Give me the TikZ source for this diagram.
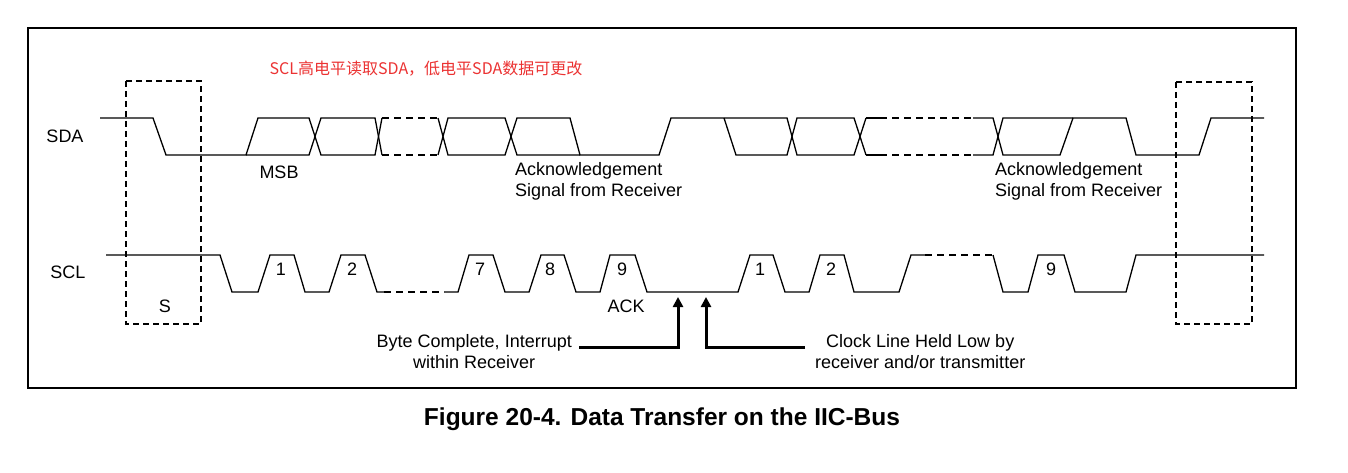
\documentclass[tikz,border=0pt]{standalone}
\usepackage{fontspec}
\setmainfont{Liberation Sans}
\newfontfamily\cjk{Noto Sans CJK SC}
\usetikzlibrary{arrows.meta}
\definecolor{redtxt}{RGB}{235,50,50}
\begin{document}
\begin{tikzpicture}[x=1pt,y=-1pt,
  wave/.style={line width=1.3pt},
  dsh/.style={line width=1.3pt,dash pattern=on 7pt off 5pt},
  box/.style={line width=1.4pt,dash pattern=on 6pt off 4pt},
  lbl/.style={font=\fontsize{18}{21}\selectfont,inner sep=0pt},
  ptr/.style={line width=3pt,-{Triangle[length=10pt,width=10pt]}}]
\useasboundingbox (0,0) rectangle (1348,473);
\draw[line width=1.4pt] (28,28) rectangle (1296,388);
% SDA
\draw[wave] (100,118)--(153,118)--(166,155)--(246,155)--(258,118)--(309,118)--(321,155)--(375,155)--(382,118);
\draw[wave] (246,155)--(309,155)--(321,118)--(375,118)--(382,155);
\draw[dsh] (382,118)--(438,118) (382,155)--(438,155);
\draw[wave] (438,118)--(448,155)--(505,155)--(517,118)--(570,118)--(580,155)--(659,155)--(671,118)--(724,118)--(787,118)--(797,155)--(854,155)--(866,118);
\draw[wave] (438,155)--(448,118)--(505,118)--(517,155)--(580,155);
\draw[wave] (724,118)--(736,155)--(787,155)--(797,118)--(854,118)--(866,155);
\draw[wave] (866,118)--(880,118) (866,155)--(880,155);
\draw[dsh] (880,118)--(973,118) (880,155)--(973,155);
\draw[wave] (973,118)--(993,118)--(1003,155)--(1060,155)--(1073,118)--(1126,118)--(1136,155)--(1199,155)--(1211,118)--(1264,118);
\draw[wave] (973,155)--(993,155)--(1003,118)--(1073,118);
% SCL
\draw[wave] (106,255)--(220,255)--(232,292)--(258,292)--(270,255)--(294,255)--(305,292)--(329,292)--(341,255)--(365,255)--(377,292)--(384,292);
\draw[dsh] (384,292)--(444,292);
\draw[wave] (444,292)--(458,292)--(469,255)--(493,255)--(505,292)--(529,292)--(541,255)--(564,255)--(576,292)--(600,292)--(610,255)--(635,255)--(647,292)--(738,292)--(750,255)--(773,255)--(785,292)--(809,292)--(820,255)--(844,255)--(854,292)--(899,292)--(911,255)--(925,255);
\draw[dsh] (925,255)--(993,255);
\draw[wave] (993,255)--(1003,292)--(1028,292)--(1038,255)--(1064,255)--(1075,292)--(1126,292)--(1136,255)--(1264,255);
% boxes
\draw[box] (126,81) rectangle (201,324);
\draw[box,line width=2.2pt] (1176,82) rectangle (1252,324);
% labels
\node[lbl] (sda) at (65,136) {SDA};
\node[lbl] (scl) at (68,272) {SCL};
\node[lbl] (s) at (165,306) {S};
\node[lbl] (msb) at (279,172) {MSB};
\node[lbl,anchor=north west,align=left] (ack1) at (515,162) {Acknowledgement\\Signal from Receiver};
\node[lbl,anchor=north west,align=left] (ack2) at (995,162) {Acknowledgement\\Signal from Receiver};
\node[lbl] (ack) at (626,306) {ACK};
\foreach \x/\t [count=\i] in {281/1,352/2,480/7,550/8,622/9,760/1,831/2,1051/9}
  \node[lbl] (n\i) at (\x,269) {\t};
\node[inner sep=0pt,text=redtxt,font=\cjk\fontsize{16}{18}\selectfont] (red) at (426,69) {SCL高电平读取SDA，低电平SDA数据可更改};
\node[lbl,align=center,anchor=east] (byte) at (572,352) {Byte Complete, Interrupt\\within Receiver};
\node[lbl,align=center,anchor=west] (clk) at (815,352) {Clock Line Held Low by\\receiver and/or transmitter};
\coordinate (t1) at (678,297);
\coordinate (t2) at (706,297);
\draw[ptr] ([xshift=7pt]byte.east |- 0,347) -- (678,347) -- (t1);
\draw[ptr] ([xshift=-10pt]clk.west |- 0,347) -- (706,347) -- (t2);
\node[inner sep=0pt,font=\bfseries\fontsize{24.5}{28}\selectfont] (title) at (662,419) {Figure 20-4. Data Transfer on the IIC-Bus};
\end{tikzpicture}
\end{document}
